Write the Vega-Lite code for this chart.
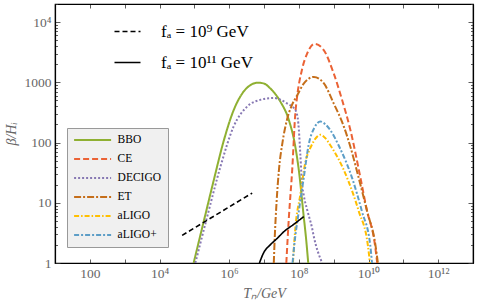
{
  "$schema": "https://vega.github.io/schema/vega-lite/v6.json",
  "width": 418,
  "height": 259,
  "autosize": "none",
  "padding": {"left": 55, "top": 4, "right": 6, "bottom": 43},
  "background": "white",
  "config": {
    "view": {"stroke": "black", "strokeWidth": 1.2},
    "axis": {
      "grid": false,
      "labelFont": "Liberation Serif",
      "labelFontSize": 13.5,
      "labelColor": "#666666",
      "titleFont": "Liberation Serif",
      "titleFontSize": 14,
      "titleFontWeight": "normal",
      "titleFontStyle": "italic",
      "titleColor": "#666666",
      "domainColor": "black",
      "domainWidth": 1.2,
      "tickColor": "#333333",
      "tickWidth": 0.8,
      "labelOverlap": false,
      "labelFlush": false
    }
  },
  "datasets": {
    "gw": [
      {"det": "BBO", "T": 9.55e4, "b": 1},
      {"det": "BBO", "T": 1.86e5, "b": 4.9},
      {"det": "BBO", "T": 3.63e5, "b": 24},
      {"det": "BBO", "T": 6.92e5, "b": 105},
      {"det": "BBO", "T": 1.35e6, "b": 347},
      {"det": "BBO", "T": 2.63e6, "b": 708},
      {"det": "BBO", "T": 3.98e6, "b": 891},
      {"det": "BBO", "T": 6.61e6, "b": 989},
      {"det": "BBO", "T": 1.0e7, "b": 955},
      {"det": "BBO", "T": 1.51e7, "b": 794},
      {"det": "BBO", "T": 2.95e7, "b": 479},
      {"det": "BBO", "T": 5.13e7, "b": 240},
      {"det": "BBO", "T": 7.94e7, "b": 85},
      {"det": "BBO", "T": 1.05e8, "b": 27.5},
      {"det": "BBO", "T": 1.32e8, "b": 7.6},
      {"det": "BBO", "T": 1.66e8, "b": 2.14},
      {"det": "BBO", "T": 1.86e8, "b": 1},
      {"det": "CE", "T": 4.37e7, "b": 1},
      {"det": "CE", "T": 5.13e7, "b": 5.25},
      {"det": "CE", "T": 6.46e7, "b": 35.5},
      {"det": "CE", "T": 7.94e7, "b": 309},
      {"det": "CE", "T": 8.91e7, "b": 575},
      {"det": "CE", "T": 1.23e8, "b": 1622},
      {"det": "CE", "T": 1.74e8, "b": 3020},
      {"det": "CE", "T": 2.85e8, "b": 4365},
      {"det": "CE", "T": 5.13e8, "b": 3467},
      {"det": "CE", "T": 1.0e9, "b": 1413},
      {"det": "CE", "T": 1.74e9, "b": 513},
      {"det": "CE", "T": 3.02e9, "b": 162},
      {"det": "CE", "T": 5.89e9, "b": 25.7},
      {"det": "CE", "T": 9.12e9, "b": 7.24},
      {"det": "CE", "T": 1.48e10, "b": 2.29},
      {"det": "CE", "T": 1.78e10, "b": 1},
      {"det": "DECIGO", "T": 1.07e5, "b": 1},
      {"det": "DECIGO", "T": 2.34e5, "b": 5.89},
      {"det": "DECIGO", "T": 5.62e5, "b": 39.8},
      {"det": "DECIGO", "T": 1.35e6, "b": 186},
      {"det": "DECIGO", "T": 3.31e6, "b": 398},
      {"det": "DECIGO", "T": 7.94e6, "b": 513},
      {"det": "DECIGO", "T": 1.91e7, "b": 550},
      {"det": "DECIGO", "T": 4.57e7, "b": 447},
      {"det": "DECIGO", "T": 7.94e7, "b": 347},
      {"det": "DECIGO", "T": 9.33e7, "b": 251},
      {"det": "DECIGO", "T": 1.0e8, "b": 166},
      {"det": "DECIGO", "T": 1.1e8, "b": 66},
      {"det": "DECIGO", "T": 1.23e8, "b": 21.4},
      {"det": "DECIGO", "T": 1.38e8, "b": 13.5},
      {"det": "DECIGO", "T": 1.74e8, "b": 7.59},
      {"det": "DECIGO", "T": 2.4e8, "b": 3.8},
      {"det": "DECIGO", "T": 2.69e8, "b": 2.75},
      {"det": "DECIGO", "T": 4.68e8, "b": 1},
      {"det": "ET", "T": 1.91e7, "b": 1},
      {"det": "ET", "T": 2.04e7, "b": 2.75},
      {"det": "ET", "T": 2.29e7, "b": 10},
      {"det": "ET", "T": 2.69e7, "b": 35.5},
      {"det": "ET", "T": 3.39e7, "b": 100},
      {"det": "ET", "T": 4.57e7, "b": 240},
      {"det": "ET", "T": 6.31e7, "b": 417},
      {"det": "ET", "T": 8.91e7, "b": 603},
      {"det": "ET", "T": 1.38e8, "b": 955},
      {"det": "ET", "T": 2.69e8, "b": 1230},
      {"det": "ET", "T": 5.13e8, "b": 977},
      {"det": "ET", "T": 1.0e9, "b": 447},
      {"det": "ET", "T": 1.95e9, "b": 186},
      {"det": "ET", "T": 3.02e9, "b": 85.1},
      {"det": "ET", "T": 5.25e9, "b": 25.7},
      {"det": "ET", "T": 9.12e9, "b": 7.24},
      {"det": "ET", "T": 1.58e10, "b": 2.0},
      {"det": "ET", "T": 1.86e10, "b": 1},
      {"det": "aLIGO", "T": 6.76e7, "b": 1},
      {"det": "aLIGO", "T": 7.94e7, "b": 3.8},
      {"det": "aLIGO", "T": 1.1e8, "b": 13.5},
      {"det": "aLIGO", "T": 1.55e8, "b": 47.9},
      {"det": "aLIGO", "T": 2.14e8, "b": 81.3},
      {"det": "aLIGO", "T": 2.95e8, "b": 115},
      {"det": "aLIGO", "T": 4.17e8, "b": 135},
      {"det": "aLIGO", "T": 5.62e8, "b": 120},
      {"det": "aLIGO", "T": 7.94e8, "b": 91.2},
      {"det": "aLIGO", "T": 2.45e9, "b": 25.7},
      {"det": "aLIGO", "T": 5.25e9, "b": 7.24},
      {"det": "aLIGO", "T": 9.55e9, "b": 2.0},
      {"det": "aLIGO", "T": 1.1e10, "b": 1},
      {"det": "aLIGO+", "T": 6.6e7, "b": 1},
      {"det": "aLIGO+", "T": 7.41e7, "b": 2.0},
      {"det": "aLIGO+", "T": 1.0e8, "b": 7.24},
      {"det": "aLIGO+", "T": 1.38e8, "b": 25.7},
      {"det": "aLIGO+", "T": 1.91e8, "b": 91.2},
      {"det": "aLIGO+", "T": 2.82e8, "b": 178},
      {"det": "aLIGO+", "T": 4.17e8, "b": 224},
      {"det": "aLIGO+", "T": 5.62e8, "b": 204},
      {"det": "aLIGO+", "T": 7.94e8, "b": 162},
      {"det": "aLIGO+", "T": 1.45e9, "b": 85.1},
      {"det": "aLIGO+", "T": 3.39e9, "b": 25.7},
      {"det": "aLIGO+", "T": 6.46e9, "b": 7.24},
      {"det": "aLIGO+", "T": 1.12e10, "b": 2.0},
      {"det": "aLIGO+", "T": 1.26e10, "b": 1}
    ],
    "fa": [
      {"fa": "fₐ = 10⁹ GeV", "T": 4.47e4, "b": 2.88},
      {"fa": "fₐ = 10⁹ GeV", "T": 4.57e6, "b": 14.5},
      {"fa": "fₐ = 10¹¹ GeV", "T": 7.41e6, "b": 1},
      {"fa": "fₐ = 10¹¹ GeV", "T": 9.77e6, "b": 1.48},
      {"fa": "fₐ = 10¹¹ GeV", "T": 1.51e7, "b": 2.0},
      {"fa": "fₐ = 10¹¹ GeV", "T": 2.4e7, "b": 2.57},
      {"fa": "fₐ = 10¹¹ GeV", "T": 3.72e7, "b": 3.31},
      {"fa": "fₐ = 10¹¹ GeV", "T": 7.08e7, "b": 4.37},
      {"fa": "fₐ = 10¹¹ GeV", "T": 1.38e8, "b": 5.89}
    ]
  },
  "layer": [
    {
      "data": {"name": "gw"},
      "mark": {"type": "line", "strokeWidth": 2, "clip": true, "interpolate": "monotone"},
      "encoding": {
        "x": {
          "field": "T", "type": "quantitative",
          "scale": {"type": "log", "domain": [10, 1e13], "nice": false},
          "axis": {
            "orient": "bottom",
            "title": "Tₙ/GeV",
            "titlePadding": 7,
            "values": [10, 100, 1000, 1e4, 1e5, 1e6, 1e7, 1e8, 1e9, 1e10, 1e11, 1e12, 1e13],
            "tickSize": -4,
            "labelPadding": 7,
            "labelExpr": "round(log(datum.value)/LN10)==2 ? '100' : round(log(datum.value)/LN10)==4 ? '10⁴' : round(log(datum.value)/LN10)==6 ? '10⁶' : round(log(datum.value)/LN10)==8 ? '10⁸' : round(log(datum.value)/LN10)==10 ? '10¹⁰' : round(log(datum.value)/LN10)==12 ? '10¹²' : ''"
          }
        },
        "y": {
          "field": "b", "type": "quantitative",
          "scale": {"type": "log", "domain": [1, 20000], "nice": false},
          "axis": {
            "orient": "left",
            "title": "β/Hᵢ",
            "titlePadding": 6,
            "values": [1,2,3,4,5,6,7,8,9,10,20,30,40,50,60,70,80,90,100,200,300,400,500,600,700,800,900,1000,2000,3000,4000,5000,6000,7000,8000,9000,10000,20000],
            "tickSize": {"condition": {"test": "abs(log(datum.value)/LN10 - round(log(datum.value)/LN10)) < 0.001", "value": -5}, "value": -2.5},
            "labelPadding": 9,
            "labelExpr": "datum.value==1 ? '1' : datum.value==10 ? '10' : datum.value==100 ? '100' : datum.value==1000 ? '1000' : datum.value==10000 ? '10⁴' : ''"
          }
        },
        "color": {
          "field": "det", "type": "nominal",
          "scale": {"domain": ["BBO", "CE", "DECIGO", "ET", "aLIGO", "aLIGO+"], "range": ["#8fb032", "#eb6235", "#8778b3", "#c56e1a", "#ffbf00", "#5d9ec7"]},
          "legend": {
            "title": null, "orient": "none", "legendX": 12, "legendY": 124,
            "fillColor": "#f0f0f0", "strokeColor": "#999999", "padding": 6,
            "labelFont": "Liberation Serif", "labelFontSize": 11.5, "labelColor": "black",
            "symbolType": "M-4,0H4", "symbolSize": 85.6, "symbolStrokeWidth": 2, "symbolOffset": 13.6,
            "rowPadding": 7, "labelOffset": 19
          }
        },
        "strokeDash": {
          "field": "det", "type": "nominal",
          "scale": {"domain": ["BBO", "CE", "DECIGO", "ET", "aLIGO", "aLIGO+"], "range": [[1, 0], [6, 3], [2, 2], [7, 2, 2, 2], [5, 2, 1.5, 2], [5, 2, 2, 2]]},
          "legend": {
            "title": null, "orient": "none", "legendX": 12, "legendY": 124,
            "fillColor": "#f0f0f0", "strokeColor": "#999999", "padding": 6,
            "labelFont": "Liberation Serif", "labelFontSize": 11.5, "labelColor": "black",
            "symbolType": "M-4,0H4", "symbolSize": 85.6, "symbolStrokeWidth": 2, "symbolOffset": 13.6,
            "rowPadding": 7, "labelOffset": 19
          }
        }
      }
    },
    {
      "data": {"name": "fa"},
      "mark": {"type": "line", "strokeWidth": 1.6, "clip": true, "color": "black", "interpolate": "monotone"},
      "encoding": {
        "x": {
          "field": "T", "type": "quantitative",
          "scale": {"type": "log", "domain": [10, 1e13], "nice": false},
          "axis": {
            "orient": "top", "title": null, "labels": false,
            "values": [10, 100, 1000, 1e4, 1e5, 1e6, 1e7, 1e8, 1e9, 1e10, 1e11, 1e12, 1e13],
            "tickSize": -4
          }
        },
        "y": {
          "field": "b", "type": "quantitative",
          "scale": {"type": "log", "domain": [1, 20000], "nice": false},
          "axis": {
            "orient": "right", "title": null, "labels": false,
            "values": [1,2,3,4,5,6,7,8,9,10,20,30,40,50,60,70,80,90,100,200,300,400,500,600,700,800,900,1000,2000,3000,4000,5000,6000,7000,8000,9000,10000,20000],
            "tickSize": {"condition": {"test": "abs(log(datum.value)/LN10 - round(log(datum.value)/LN10)) < 0.001", "value": -5}, "value": -2.5}
          }
        },
        "strokeDash": {
          "field": "fa", "type": "nominal",
          "scale": {"domain": ["fₐ = 10⁹ GeV", "fₐ = 10¹¹ GeV"], "range": [[5, 3], [1, 0]]},
          "legend": {
            "title": null, "orient": "none", "legendX": 55, "legendY": 19,
            "padding": 0, "labelFont": "Liberation Serif", "labelFontSize": 17, "labelColor": "black",
            "symbolType": "M-4,0H4", "symbolSize": 42.25, "symbolStrokeWidth": 1.6, "symbolStrokeColor": "black", "symbolOffset": 9,
            "rowPadding": 13, "labelOffset": 25
          }
        }
      }
    }
  ],
  "resolve": {
    "scale": {"strokeDash": "independent", "color": "independent"},
    "axis": {"x": "independent", "y": "independent"},
    "legend": {"strokeDash": "independent"}
  }
}
